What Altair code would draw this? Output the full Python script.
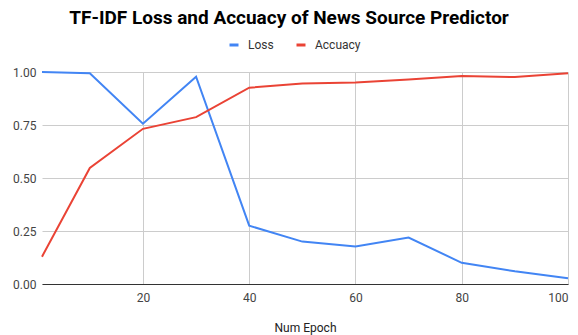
import altair as alt
import pandas as pd

# Training curves of the TF-IDF news source predictor
epochs = [1, 10, 20, 30, 40, 50, 60, 70, 80, 90, 100]
loss = [1.0, 0.994, 0.756, 0.978, 0.275, 0.200, 0.177, 0.219, 0.100, 0.060, 0.027]
accuracy = [0.129, 0.547, 0.732, 0.787, 0.926, 0.946, 0.951, 0.965, 0.981, 0.976, 0.994]
series_names = ["Loss", "Accuacy"]
series_colors = ["#4285F4", "#EA4335"]
x_ticks = [20, 40, 60, 80, 100]

df = pd.concat([
    pd.DataFrame({"epoch": epochs, "value": loss, "series": "Loss"}),
    pd.DataFrame({"epoch": epochs, "value": accuracy, "series": "Accuacy"}),
])

font = "Roboto"

chart = alt.Chart(df).mark_line(strokeWidth=2).encode(
    x=alt.X("epoch:Q",
            scale=alt.Scale(domain=[1, 100], nice=False, zero=False),
            axis=alt.Axis(title="Num Epoch", values=x_ticks, labelFont=font,
                          labelFontSize=12, labelColor="#444", titleFont=font,
                          titleFontSize=12, titleFontWeight="normal",
                          titleColor="#222", titlePadding=19, ticks=False,
                          labelPadding=8, domainColor="#333", domainWidth=1,
                          gridColor="#ccc", grid=True)),
    y=alt.Y("value:Q",
            scale=alt.Scale(domain=[0, 1], nice=False),
            axis=alt.Axis(title=None, values=[0, 0.25, 0.5, 0.75, 1.0],
                          format=".2f", labelFont=font, labelFontSize=12,
                          labelColor="#444", ticks=False, domain=False,
                          labelPadding=6, gridColor="#ccc")),
    color=alt.Color("series:N",
                    scale=alt.Scale(domain=series_names, range=series_colors),
                    sort=series_names,
                    legend=alt.Legend(title=None, orient="none", direction="horizontal",
                                      legendX=186, legendY=-33,
                                      symbolType="stroke", symbolStrokeWidth=3,
                                      symbolSize=81, labelFont=font,
                                      labelFontSize=12, labelColor="#333",
                                      columnPadding=16, labelOffset=8)),
).properties(
    width=526,
    height=212,
    title=alt.TitleParams("TF-IDF Loss and Accuacy of News Source Predictor",
                          font=font, fontSize=19, fontWeight="bold",
                          color="#000", anchor="middle", offset=11, dx=-16),
    autosize=alt.AutoSizeParams(type="none"),
    padding={"left": 42, "top": 72, "right": 10, "bottom": 51},
).configure_view(stroke=None)

chart.save("out.html", embed_options={"renderer": "svg", "actions": False})
